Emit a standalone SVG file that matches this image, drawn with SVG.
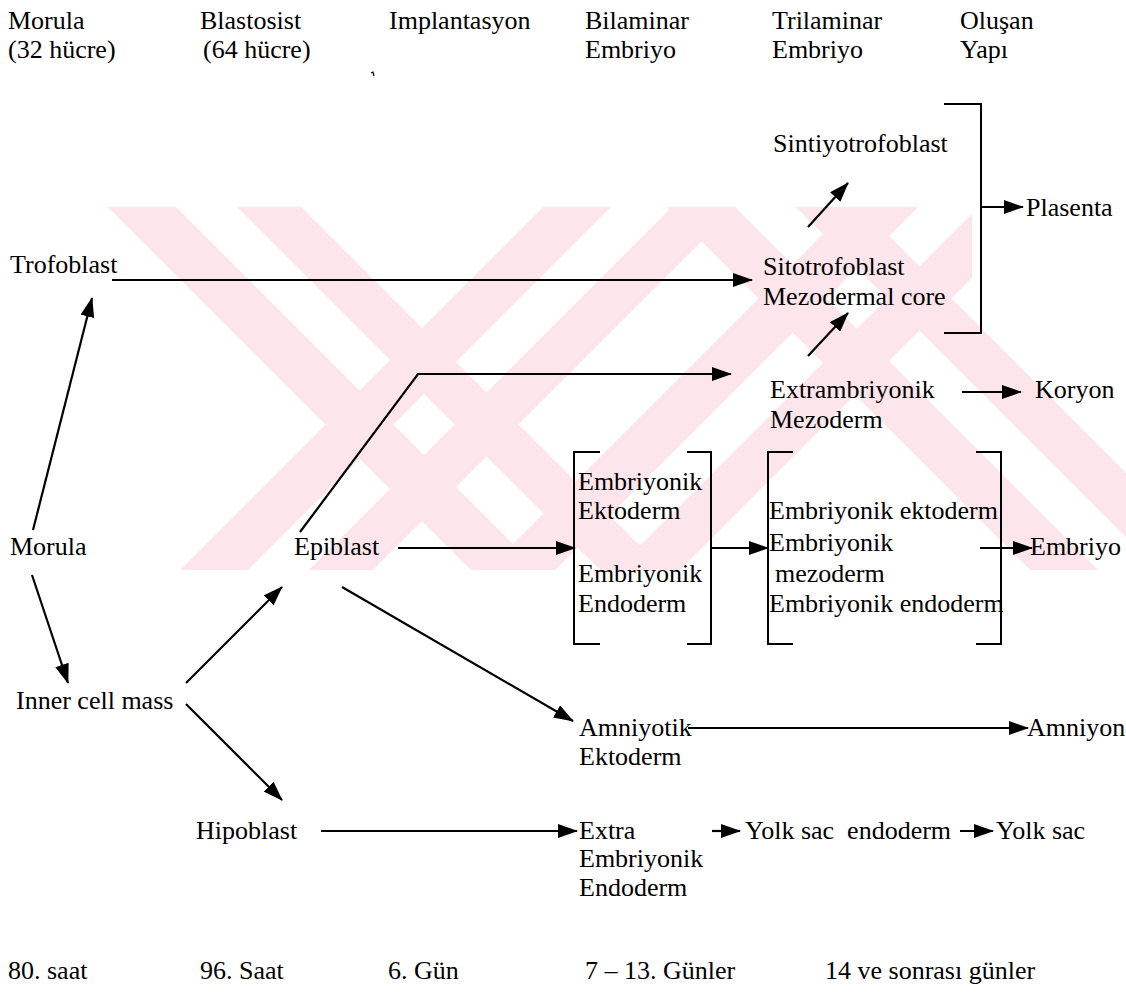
<svg xmlns="http://www.w3.org/2000/svg" width="1126" height="995" viewBox="0 0 1126 995">
<defs>
<marker id="ah" viewBox="0 0 20 14" refX="19" refY="7" markerWidth="20" markerHeight="14" markerUnits="userSpaceOnUse" orient="auto">
<path d="M0,0 L20,7 L0,14 z" fill="#000"/>
</marker>
<clipPath id="wmclip"><rect x="0" y="207" width="1126" height="363"/></clipPath>
<clipPath id="wmclip2"><rect x="0" y="207" width="972" height="363"/></clipPath>
<style>
.t text{font-family:'Liberation Serif','Times New Roman','DejaVu Serif',serif;font-size:26px;fill:#000}
.a{stroke:#000;stroke-width:2.2;fill:none;marker-end:url(#ah)}
.br{stroke:#000;stroke-width:2;fill:none}
.wm{fill:#fde6eb}
</style>
</defs>
<rect width="1126" height="995" fill="#fff"/>

<g id="watermark">
<g clip-path="url(#wmclip)">
<polygon class="wm" points="108,207 176,207 539,570 471,570"/>
<polygon class="wm" points="237,207 301,207 664,570 600,570"/>
<polygon class="wm" points="543,207 611,207 248,570 180,570"/>
<polygon class="wm" points="672,207 736,207 373,570 309,570"/>
<polygon class="wm" points="667,207 735,207 1098,570 1030,570"/>
<polygon class="wm" points="796,207 860,207 1223,570 1159,570"/>
</g>
<g clip-path="url(#wmclip2)">
<polygon class="wm" points="850,207 918,207 555,570 487,570"/>
<polygon class="wm" points="979,207 1043,207 680,570 616,570"/>
</g>
</g>

<g class="t" font-family="Liberation Serif, Times New Roman, serif" font-size="26">
<g id="headers">
<text x="8" y="29">Morula</text><text x="8" y="58">(32 hücre)</text>
<text x="200" y="29">Blastosist</text><text x="203" y="58">(64 hücre)</text>
<text x="389" y="29">Implantasyon</text>
<text x="585" y="29">Bilaminar</text><text x="585" y="58">Embriyo</text>
<text x="772" y="29">Trilaminar</text><text x="772" y="58">Embriyo</text>
<text x="960" y="29">Oluşan</text><text x="960" y="58">Yapı</text>
</g>
<g id="node-sintiyotrofoblast"><text x="773" y="152">Sintiyotrofoblast</text></g>
<g id="node-plasenta"><text x="1026" y="216">Plasenta</text></g>
<g id="node-trofoblast"><text x="10" y="273">Trofoblast</text></g>
<g id="node-sitotrofoblast"><text x="763" y="275">Sitotrofoblast</text><text x="763" y="305">Mezodermal core</text></g>
<g id="node-extraembriyonik-mezoderm"><text x="770" y="398">Extrambriyonik</text><text x="770" y="428">Mezoderm</text></g>
<g id="node-koryon"><text x="1035" y="398">Koryon</text></g>
<g id="node-bilaminar">
<text x="578" y="490">Embriyonik</text><text x="578" y="519">Ektoderm</text>
<text x="578" y="582">Embriyonik</text><text x="578" y="612">Endoderm</text>
</g>
<g id="node-trilaminar">
<text x="769" y="519">Embriyonik ektoderm</text><text x="769" y="551">Embriyonik</text>
<text x="775" y="582">mezoderm</text><text x="769" y="612">Embriyonik endoderm</text>
</g>
<g id="node-morula"><text x="10" y="555">Morula</text></g>
<g id="node-epiblast"><text x="294" y="555">Epiblast</text></g>
<g id="node-embriyo"><text x="1030" y="555">Embriyo</text></g>
<g id="node-icm"><text x="16" y="709">Inner cell mass</text></g>
<g id="node-amniyotik"><text x="579" y="736">Amniyotik</text><text x="579" y="765">Ektoderm</text></g>
<g id="node-amniyon"><text x="1027" y="736">Amniyon</text></g>
<g id="node-hipoblast"><text x="196" y="839">Hipoblast</text></g>
<g id="node-extraembriyonik-endoderm"><text x="579" y="839">Extra</text><text x="579" y="867">Embriyonik</text><text x="579" y="896">Endoderm</text></g>
<g id="node-yolk-endoderm"><text x="745" y="839" xml:space="preserve">Yolk sac  endoderm</text></g>
<g id="node-yolk-sac"><text x="996" y="839">Yolk sac</text></g>
<g id="footer">
<text x="8" y="979">80. saat</text>
<text x="200" y="979">96. Saat</text>
<text x="388" y="979">6. Gün</text>
<text x="585" y="979">7 – 13. Günler</text>
<text x="825" y="979">14 ve sonrası günler</text>
</g>
</g>

<g id="brackets">
<path class="br" d="M600,452 H574 V644 H600 M687,452 H711 V644 H687"/>
<path class="br" d="M793,452 H768 V644 H793 M976,452 H1001 V644 H976"/>
<path class="br" d="M944,104 H981 V333 H944"/>
<path d="M371,73 l2,-1 l1,4" stroke="#000" stroke-width="1.2" fill="none"/>
</g>

<g id="connectors">
<line class="a" x1="33" y1="530" x2="92" y2="298"/>
<line class="a" x1="32" y1="575" x2="68" y2="683"/>
<line class="a" x1="186" y1="683" x2="282" y2="587"/>
<line class="a" x1="186" y1="704" x2="282" y2="800"/>
<line class="a" x1="112" y1="280" x2="752" y2="280"/>
<polyline class="a" points="300,532 418,374 731,374"/>
<line class="a" x1="808" y1="227" x2="848" y2="183"/>
<line class="a" x1="808" y1="356" x2="848" y2="313"/>
<line class="a" x1="981" y1="207" x2="1023" y2="207"/>
<line class="a" x1="962" y1="392" x2="1021" y2="392"/>
<line class="a" x1="398" y1="548" x2="575" y2="548"/>
<line class="a" x1="711" y1="548" x2="768" y2="548"/>
<line class="a" x1="980" y1="548" x2="1032" y2="548"/>
<line class="a" x1="342" y1="587" x2="573" y2="721"/>
<line class="a" x1="688" y1="728" x2="1028" y2="728"/>
<line class="a" x1="321" y1="831" x2="577" y2="831"/>
<line class="a" x1="712" y1="831" x2="740" y2="831"/>
<line class="a" x1="960" y1="831" x2="993" y2="831"/>
</g>
</svg>
